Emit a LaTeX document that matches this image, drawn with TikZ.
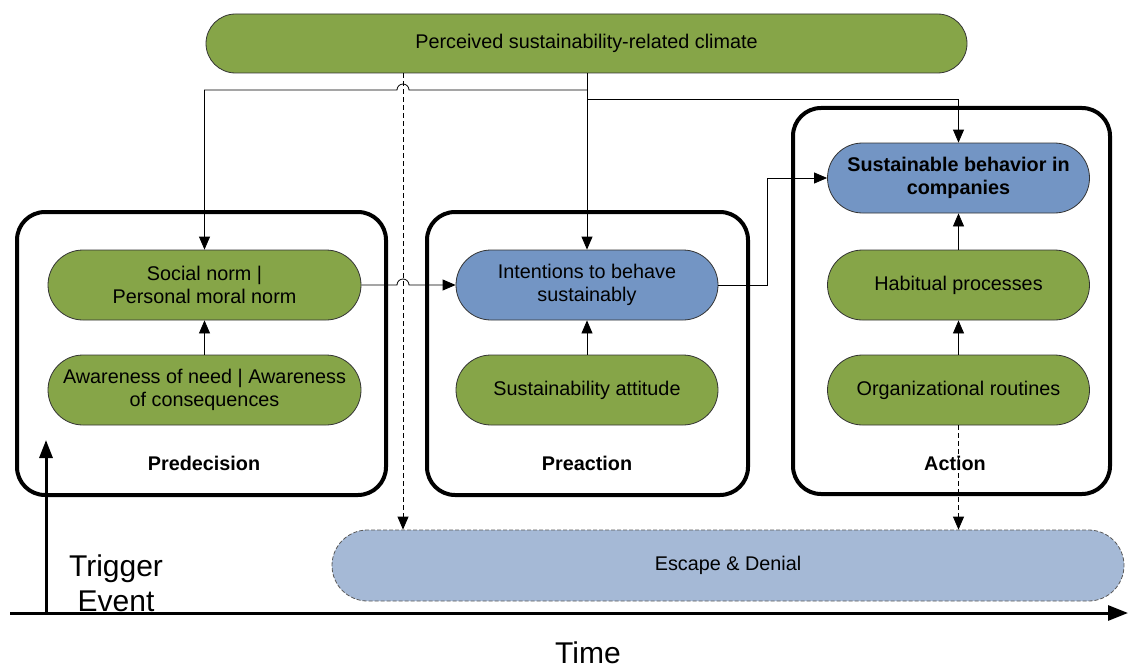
\documentclass[tikz,border=0pt]{standalone}
\usepackage{fontspec}
\setmainfont{Liberation Sans}
\usetikzlibrary{arrows.meta,shapes.misc,calc}
\definecolor{vgreen}{RGB}{134,165,72}
\definecolor{vblue}{RGB}{115,149,196}
\definecolor{vlight}{RGB}{165,185,214}
\begin{document}
\begin{tikzpicture}[x=1pt,y=1pt,
  pill/.style={rounded rectangle, draw=black!80, line width=0.8pt, minimum width=264pt,
    minimum height=70pt, align=center, inner sep=1pt, font=\fontsize{19.8}{23}\selectfont},
  gpill/.style={pill, fill=vgreen},
  bpill/.style={pill, fill=vblue},
  groupbox/.style={draw=black, line width=4pt, rounded corners=28pt, inner sep=0pt},
  grouplabel/.style={font=\bfseries\fontsize{19.8}{23}\selectfont},
  conn/.style={draw=black, line width=0.8pt, -{Triangle[length=13pt,width=11pt]}},
  dconn/.style={conn, dash pattern=on 5pt off 3pt},
  axis/.style={draw=black, line width=3pt},
  bigtext/.style={font=\fontsize{30}{35}\selectfont, align=center}
]
\useasboundingbox (0,0) rectangle (1128,-669);

% group boxes
\node[groupbox, minimum width=369pt, minimum height=283pt] (gpre) at (201.5,-353.5) {};
\node[groupbox, minimum width=321pt, minimum height=283pt] (gpra) at (587.5,-353.5) {};
\node[groupbox, minimum width=317pt, minimum height=386pt] (gact) at (951.5,-301) {};

\node[grouplabel] (lpre) at (204,-463) {Predecision};
\node[grouplabel] (lpra) at (587,-463) {Preaction};
\node[grouplabel] (lact) at (955,-463) {Action};

% top node
\node[gpill, minimum width=763pt, minimum height=59pt] (top) at (586.5,-43.5) {Perceived sustainability-related climate};

% inner nodes
\node[gpill, minimum width=315pt] (sn) at (204.5,-285) {Social norm |\\Personal moral norm};
\node[gpill, minimum width=315pt] (aw) at (204.5,-390) {Awareness of need | Awareness\\of consequences};
\node[bpill] (int) at (587,-285) {Intentions to behave\\sustainably};
\node[gpill] (att) at (587,-390) {Sustainability attitude};
\node[bpill, font=\bfseries\fontsize{19.8}{23}\selectfont] (sbc) at (958.5,-178) {Sustainable behavior in\\companies};
\node[gpill] (hab) at (958.5,-285) {Habitual processes};
\node[gpill] (org) at (958.5,-390) {Organizational routines};

% escape
\node[pill, fill=vlight, draw=black!65, dash pattern=on 4pt off 2pt, minimum width=794pt, minimum height=71pt] (esc) at (728,-565.5) {Escape \& Denial};

% coordinates
\coordinate (j1) at (587,-90);
\coordinate (j2) at (587,-99);
\coordinate (b1) at (409,-90);
\coordinate (b2) at (397,-285);
\coordinate (d) at (403,0);
\coordinate (k) at (767,0);

% connectors from top
\draw[conn] (top.south -| int.north) -- (int.north);
\draw[conn] (j1) -- (b1) arc[start angle=0, end angle=180, radius=6pt] -| (sn.north);
\draw[conn] (j2) -| (sbc.north);
\draw[dconn] (top.south -| d) -- (esc.north -| d);

% inner connectors
\draw[conn] (aw.north) -- (sn.south);
\draw[conn] (att.north) -- (int.south);
\draw[conn] (org.north) -- (hab.south);
\draw[conn] (hab.north) -- (sbc.south);
\draw[conn] (sn.east) -- (b2) arc[start angle=180, end angle=0, radius=6pt] -- (int.west);
\draw[conn] (int.east) -- (int.east -| k) |- (sbc.west);
\draw[dconn] (org.south) -- (esc.north -| org.south);

% axes
\coordinate (a0) at (10,-613);
\coordinate (a1) at (1128,-613);
\coordinate (t0) at (46,-613);
\coordinate (t1) at (46,-440);
\draw[axis, -{Triangle[length=20pt,width=15pt]}] (a0) -- (a1);
\draw[axis, -{Triangle[length=18pt,width=13pt]}] (t0) -- (t1);

\node[bigtext] (trig) at (116,-583) {Trigger\\Event};
\node[bigtext, inner sep=1pt] (time) at (588,-653) {Time};
\end{tikzpicture}
\end{document}
